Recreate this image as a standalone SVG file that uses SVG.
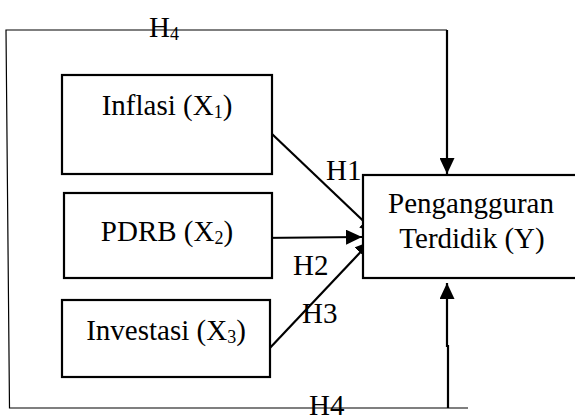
<svg xmlns="http://www.w3.org/2000/svg" width="575" height="417" viewBox="0 0 575 417">
<style>
.box{fill:#fff;stroke:#000;stroke-width:2.2}
.t{font-family:"Liberation Serif","Times New Roman",serif;font-size:29px;fill:#000}
.c{text-anchor:middle}
.sub{font-size:18px}
.thin{fill:none;stroke:#000;stroke-width:1.2}
.arr{fill:none;stroke:#000;stroke-width:2.2}
</style>
<defs>
<marker id="ah" viewBox="0 0 16 15" refX="16" refY="7.5" markerWidth="16" markerHeight="15" markerUnits="userSpaceOnUse" orient="auto">
<path d="M0,0 L16,7.5 L0,15 Z" fill="#000"/>
</marker>
</defs>
<g id="connectors">
<path class="thin" d="M447,30 L6,30 L9.5,408 L468,408"/>
<path class="arr" d="M447,30 L447,174" marker-end="url(#ah)"/>
<path class="arr" d="M448,408 L448,346 L447,346 L447,283" marker-end="url(#ah)"/>
<path class="arr" d="M272,134 L376,233" marker-end="url(#ah)"/>
<path class="arr" d="M258,238 L362,237" marker-end="url(#ah)"/>
<path class="arr" d="M268,350 L371,241" marker-end="url(#ah)"/>
</g>
<g id="x1">
<rect class="box" x="62" y="75" width="210" height="99"/>
<text class="t c" x="167" y="115">Inflasi (X<tspan class="sub" dy="3">1</tspan><tspan dy="-3">)</tspan></text>
</g>
<g id="x2">
<rect class="box" x="64" y="193" width="208" height="85"/>
<text class="t c" x="167" y="241">PDRB (X<tspan class="sub" dy="3">2</tspan><tspan dy="-3">)</tspan></text>
</g>
<g id="x3">
<rect class="box" x="62" y="300" width="208" height="77"/>
<text class="t c" x="166" y="340">Investasi (X<tspan class="sub" dy="3">3</tspan><tspan dy="-3">)</tspan></text>
</g>
<g id="y">
<rect class="box" x="363" y="175" width="216" height="103"/>
<text class="t c" x="471" y="213">Pengangguran</text>
<text class="t c" x="472" y="248">Terdidik (Y)</text>
</g>
<g id="labels">
<text class="t" x="326" y="180">H1</text>
<text class="t" x="293" y="275">H2</text>
<text class="t" x="302" y="323">H3</text>
<text class="t" x="149" y="37">H<tspan class="sub" dy="3">4</tspan></text>
<text class="t" x="309" y="415">H4</text>
</g>
</svg>
